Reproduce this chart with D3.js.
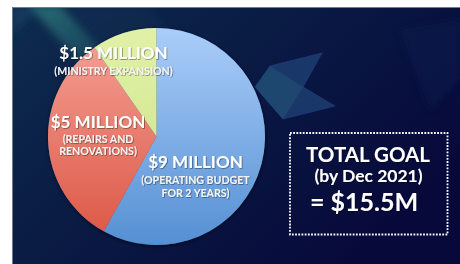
<!DOCTYPE html>
<html><head><meta charset="utf-8">
<script src="https://cdn.jsdelivr.net/npm/d3@7"></script>
<style>html,body{margin:0;padding:0;background:#fff;overflow:hidden}svg{display:block}</style>
</head><body>
<script>
// ---- data ----
const categories = ["$9 MILLION", "$5 MILLION", "$1.5 MILLION"];
const subLabels = [["(OPERATING BUDGET", "FOR 2 YEARS)"], ["(REPAIRS AND", "RENOVATIONS)"], ["(MINISTRY EXPANSION)"]];
const values = [9, 5, 1.5];
const goalLines = ["TOTAL GOAL", "(by Dec 2021)", "= $15.5M"];

// ---- layout ----
const W = 460, H = 264;
const cx = 156.5, cy = 136.5, R = 108.5;
// label anchor (centre x, first baseline) relative to the pie centre
const labelOffsets = [[39, 31], [-58.5, -8.5], [-43, -78]];
const subGap = [[16.5, 29.5], [14.5, 26.5], [16.5]];
const fills = [["#aacdf9", "#5590d3"], ["#f4a398", "#dc5543"], ["#e1f1a8", "#cbe184"]];

const svg = d3.select("body").append("svg").attr("width", W).attr("height", H);
const defs = svg.append("defs");

const bg = defs.append("linearGradient").attr("id", "bg").attr("x1", 0).attr("y1", 0).attr("x2", 1).attr("y2", 0.6);
bg.append("stop").attr("offset", 0).attr("stop-color", "#0e2c4e");
bg.append("stop").attr("offset", 0.4).attr("stop-color", "#0a1d45");
bg.append("stop").attr("offset", 1).attr("stop-color", "#07093a");

const streak = defs.append("linearGradient").attr("id", "streak").attr("x1", 0).attr("y1", 0).attr("x2", 1).attr("y2", 1);
streak.append("stop").attr("offset", 0).attr("stop-color", "#2d777a").attr("stop-opacity", 0.9);
streak.append("stop").attr("offset", 1).attr("stop-color", "#1b4f66").attr("stop-opacity", 0.15);

fills.forEach((f, i) => {
  const g = defs.append("linearGradient").attr("id", "g" + i)
    .attr("gradientUnits", "userSpaceOnUse").attr("x1", 0).attr("y1", -R).attr("x2", 0).attr("y2", R);
  g.append("stop").attr("offset", 0).attr("stop-color", f[0]);
  g.append("stop").attr("offset", 1).attr("stop-color", f[1]);
});

const blur = defs.append("filter").attr("id", "blur").attr("x", "-50%").attr("y", "-50%").attr("width", "200%").attr("height", "200%");
blur.append("feGaussianBlur").attr("stdDeviation", 4);
const sh = defs.append("filter").attr("id", "sh").attr("x", "-20%").attr("y", "-20%").attr("width", "140%").attr("height", "140%");
sh.append("feDropShadow").attr("dx", 0).attr("dy", 1).attr("stdDeviation", 2).attr("flood-color", "#000").attr("flood-opacity", 0.6);
const tsh = defs.append("filter").attr("id", "tsh");
tsh.append("feDropShadow").attr("dx", 0.7).attr("dy", 0.7).attr("stdDeviation", 0.5).attr("flood-color", "#000").attr("flood-opacity", 0.5);

// background panel
svg.append("rect").attr("x", 12).attr("y", 7).attr("width", W - 12).attr("height", H - 7).attr("fill", "url(#bg)");
const clip = defs.append("clipPath").attr("id", "panel");
clip.append("rect").attr("x", 12).attr("y", 7).attr("width", W - 12).attr("height", H - 7);
const deco = svg.append("g").attr("clip-path", "url(#panel)");
deco.append("path").attr("d", "M12,7 L40,7 L12,35 Z").attr("fill", "#123d60").attr("opacity", 0.8).attr("filter", "url(#blur)");
deco.append("path").attr("d", "M28,5 L60,5 L140,88 L118,104 Z").attr("fill", "url(#streak)").attr("filter", "url(#blur)");
deco.append("path").attr("d", "M70,7 L150,7 L250,140 L180,140 Z").attr("fill", "#143457").attr("opacity", 0.3).attr("filter", "url(#blur)");
deco.append("path").attr("d", "M322,53 L303,87 L335,106 L283,119 L255,87 L270,66 Z")
  .attr("fill", "#20467a").attr("opacity", 0.7).attr("stroke", "#3152a8").attr("stroke-width", 0.6);
deco.append("path").attr("d", "M255,87 L283,119 L303,87 L270,66 Z").attr("fill", "#2a6a7e").attr("opacity", 0.3);
deco.append("path").attr("d", "M400,30 L430,110 L460,80 L460,20 Z").attr("fill", "#0d1d4d").attr("opacity", 0.5).attr("filter", "url(#blur)");
svg.append("line").attr("x1", 12).attr("x2", W).attr("y1", 7.5).attr("y2", 7.5).attr("stroke", "#6f7c8e").attr("stroke-width", 1);
svg.append("line").attr("x1", 12.5).attr("x2", 12.5).attr("y1", 7).attr("y2", H).attr("stroke", "#6f7c8e").attr("stroke-width", 1);

// pie
const pie = d3.pie().sort(null).value(d => d)(values);
const arc = d3.arc().innerRadius(0).outerRadius(R);
const pg = svg.append("g").attr("transform", `translate(${cx},${cy})`);
pg.append("circle").attr("r", R).attr("fill", "#3a5b90").attr("filter", "url(#sh)");
pg.selectAll("path.slice").data(pie).join("path").attr("class", "slice")
  .attr("d", arc).attr("fill", (d, i) => `url(#g${i})`);

// labels
const font = "Lato, 'Open Sans', sans-serif";
const lg = pg.append("g").attr("filter", "url(#tsh)").attr("fill", "#fff").attr("font-family", font)
  .attr("font-weight", 700).attr("text-anchor", "middle");
categories.forEach((c, i) => {
  const [ox, oy] = labelOffsets[i];
  lg.append("text").attr("x", ox).attr("y", oy).attr("font-size", 17).text(c);
  subLabels[i].forEach((s, j) => {
    lg.append("text").attr("x", ox).attr("y", oy + subGap[i][j]).attr("font-size", 10.6).attr("fill", "#f4f4f4").text(s);
  });
});

// goal box
svg.append("rect").attr("x", 290).attr("y", 133).attr("width", 157.5).attr("height", 101.5)
  .attr("fill", "none").attr("stroke", "#fff").attr("stroke-width", 1.8).attr("stroke-dasharray", "1.8,1.4");
const gg = svg.append("g").attr("fill", "#fff").attr("font-family", font).attr("font-weight", 700)
  .attr("text-anchor", "middle").attr("filter", "url(#tsh)");
const goalSizes = [20.5, 17.5, 25], goalY = [162.3, 182, 210.5], goalX = [368, 368.5, 364];
goalLines.forEach((t, i) => gg.append("text").attr("x", goalX[i]).attr("y", goalY[i]).attr("font-size", goalSizes[i]).text(t));
</script>
</body></html>
